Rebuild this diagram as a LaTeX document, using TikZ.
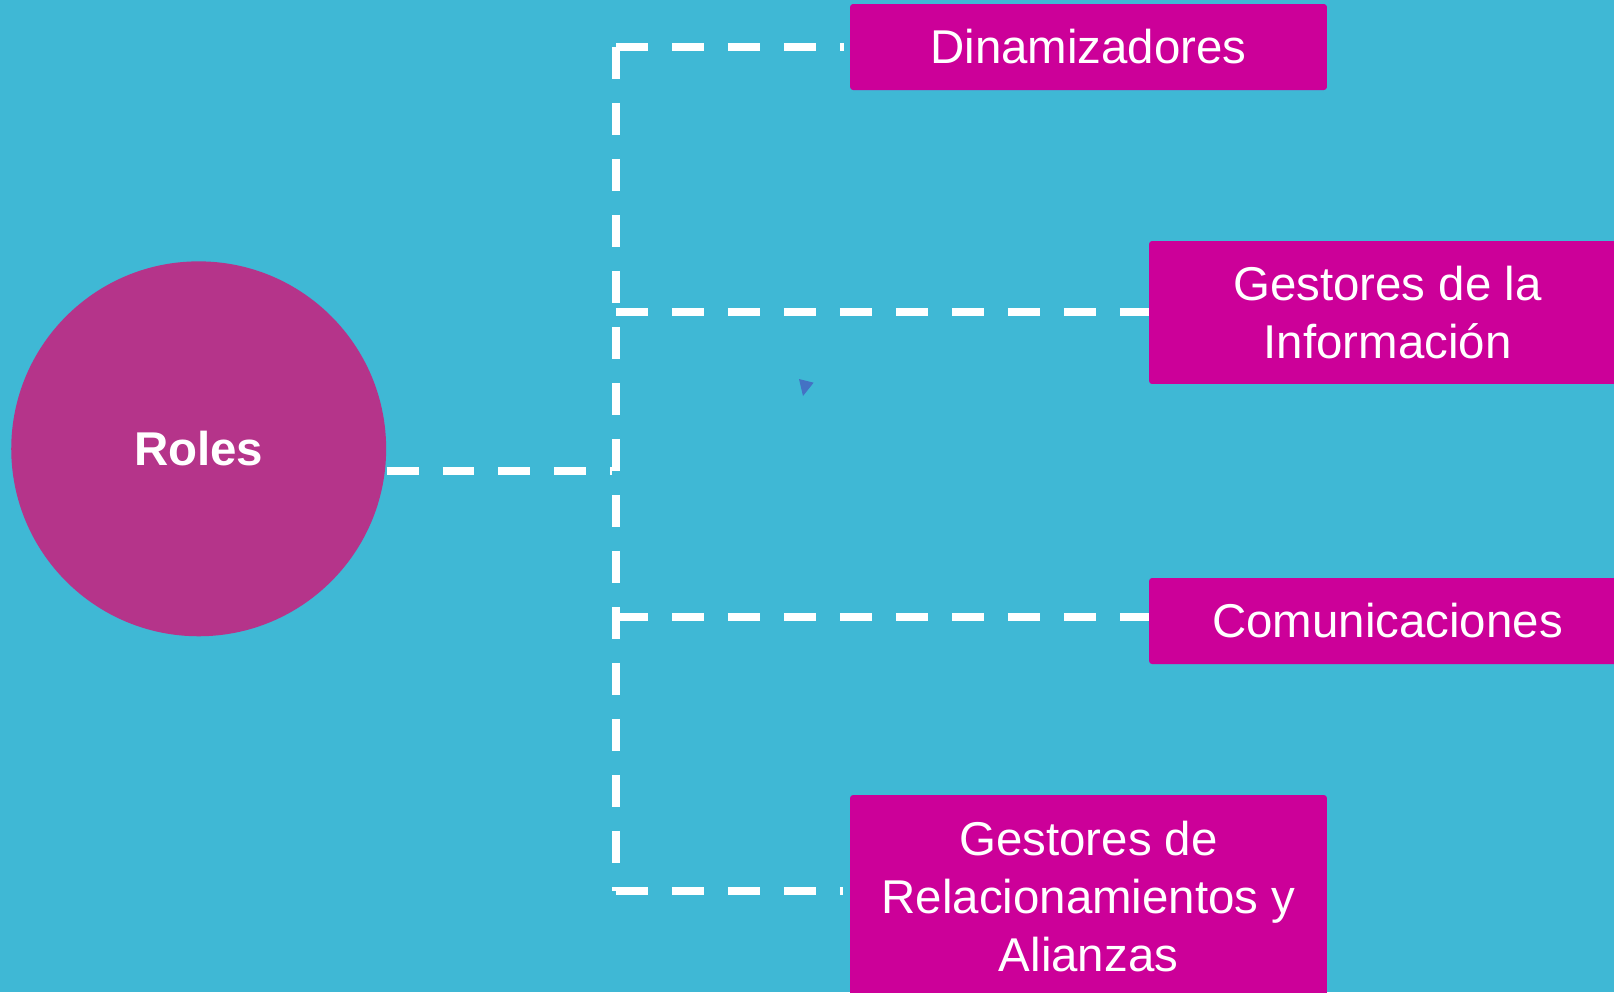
\documentclass[tikz,border=0pt]{standalone}
\usepackage{fontspec}
\setmainfont{Liberation Sans}
\usepackage{tikz}
\definecolor{bgblue}{HTML}{3FB8D5}
\definecolor{boxpink}{HTML}{CC0099}
\definecolor{rolepink}{HTML}{B5348A}
\definecolor{markblue}{HTML}{4472C4}
\begin{document}
\begin{tikzpicture}[x=0.02cm,y=-0.02cm,
		box/.style={fill=boxpink,rectangle,rounded corners=1.7pt,minimum width=9.54cm,inner sep=0pt,
			text=white,align=center,font=\fontsize{27pt}{32.8pt}\selectfont},
		link/.style={draw=white,line width=0.16cm,dash pattern=on 0.64cm off 0.48cm}]
		\useasboundingbox (0,0) rectangle (1614,992);
		\clip (0,0) rectangle (1614,992);
		\fill[bgblue] (0,0) rectangle (1614,992);
		\node (roles) [circle,fill=rolepink,minimum size=7.5cm,inner sep=0pt,text=white,
			font=\bfseries\fontsize{27pt}{32.8pt}\selectfont] at (198.7,448.8) {Roles};
		\node (dina) [box,minimum height=1.72cm] at (1088.5,47) {Dinamizadores};
		\node (gesinf) [box,minimum height=2.86cm] at (1387.5,312.5) {Gestores de la\\Información};
		\node (comu) [box,minimum height=1.72cm] at (1387.5,621) {Comunicaciones};
		\node (gesrel) [box,minimum height=4.06cm] at (1088.5,896.5) {Gestores de\\Relacionamientos y\\Alianzas};
		\coordinate (top) at (616,47);
		\coordinate (bot) at (616,891);
		\coordinate (j2) at (616,312);
		\coordinate (j3) at (616,617);
		\draw[link] (top) -- (bot);
		\draw[link,shorten >=0.08cm] ([yshift=-0.444cm]roles.east) -- ([yshift=-0.444cm]roles.east -| top);
		\draw[link,shorten >=0.12cm] (top) -- (dina.west);
		\draw[link] (j2) -- (j2 -| gesinf.west);
		\draw[link] (j3) -- (j3 -| comu.west);
		\draw[link,shorten >=0.14cm] (bot) -- (bot -| gesrel.west);
		\fill[markblue] (799,379) -- (813.6,382.7) -- (803,396) -- cycle;
	\end{tikzpicture}
\end{document}
